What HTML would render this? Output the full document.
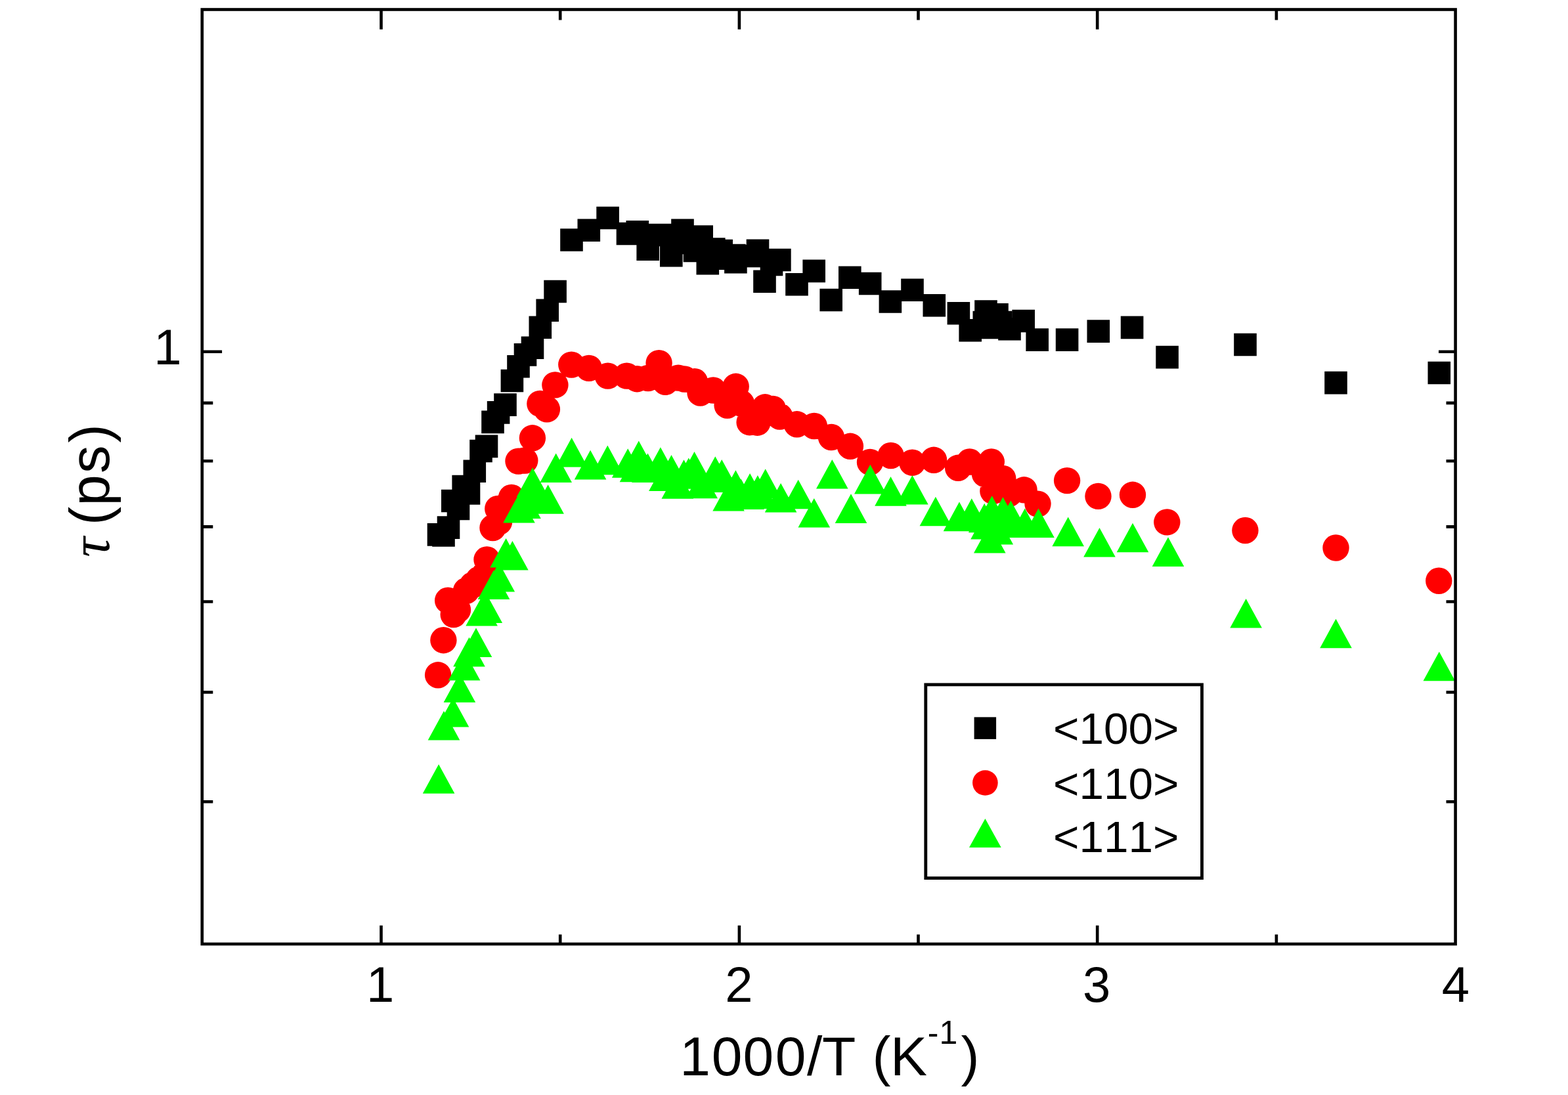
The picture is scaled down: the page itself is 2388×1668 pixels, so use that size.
<!DOCTYPE html>
<html><head><meta charset="utf-8"><title>tau vs 1000/T</title>
<style>html,body{margin:0;padding:0;background:#fff;overflow:hidden}svg{display:block;font-kerning:none;font-feature-settings:"kern" 0}</style>
</head><body><svg width="2388" height="1668" viewBox="0 0 2388 1668"><rect x="0" y="0" width="2388" height="1668" fill="#fff"/><path fill="#000" d="M2174.5 550.7h34.6v34.6h-34.6zM2017.2 565.8h34.6v34.6h-34.6zM1879.2 507.7h34.6v34.6h-34.6zM1760.3 526.8h34.6v34.6h-34.6zM1706.8 481.6h34.6v34.6h-34.6zM1655.5 487.3h34.6v34.6h-34.6zM1607.8 500.3h34.6v34.6h-34.6zM1562.4 500.3h34.6v34.6h-34.6zM1541.4 471.7h34.6v34.6h-34.6zM1520.2 483.9h34.6v34.6h-34.6zM1506.7 473.7h34.6v34.6h-34.6zM1501.2 461.9h34.6v34.6h-34.6zM1490.7 481.7h34.6v34.6h-34.6zM1484.2 457.3h34.6v34.6h-34.6zM1481.5 473.7h34.6v34.6h-34.6zM1460.4 486h34.6v34.6h-34.6zM1442.6 460h34.6v34.6h-34.6zM1405.5 447.9h34.6v34.6h-34.6zM1372.2 424.4h34.6v34.6h-34.6zM1338.6 442.2h34.6v34.6h-34.6zM1307.9 414.7h34.6v34.6h-34.6zM1277 405.4h34.6v34.6h-34.6zM1248.4 439.7h34.6v34.6h-34.6zM1222.4 395.6h34.6v34.6h-34.6zM1196.2 416h34.6v34.6h-34.6zM1170.1 378.7h34.6v34.6h-34.6zM1157.7 385.7h34.6v34.6h-34.6zM1147.2 411.4h34.6v34.6h-34.6zM1136.7 364.6h34.6v34.6h-34.6zM1125.7 372.7h34.6v34.6h-34.6zM1103.1 381.8h34.6v34.6h-34.6zM1101 371.7h34.6v34.6h-34.6zM1081.4 364.7h34.6v34.6h-34.6zM1070 362.3h34.6v34.6h-34.6zM1081.7 376.3h34.6v34.6h-34.6zM1060.5 384h34.6v34.6h-34.6zM1051.4 343.2h34.6v34.6h-34.6zM1040.7 364.7h34.6v34.6h-34.6zM1014.7 352.7h34.6v34.6h-34.6zM1022.2 333.4h34.6v34.6h-34.6zM1005 372h34.6v34.6h-34.6zM987.7 340.7h34.6v34.6h-34.6zM969.4 362.4h34.6v34.6h-34.6zM953.5 336h34.6v34.6h-34.6zM938.7 338.7h34.6v34.6h-34.6zM908.3 314.7h34.6v34.6h-34.6zM879.5 333.5h34.6v34.6h-34.6zM853.2 348.2h34.6v34.6h-34.6zM828.3 426.7h34.6v34.6h-34.6zM816.4 455.5h34.6v34.6h-34.6zM805.5 481.4h34.6v34.6h-34.6zM793.7 512.5h34.6v34.6h-34.6zM782.7 523.1h34.6v34.6h-34.6zM772.2 541h34.6v34.6h-34.6zM762.6 562.7h34.6v34.6h-34.6zM752.2 599.3h34.6v34.6h-34.6zM741.8 611.1h34.6v34.6h-34.6zM733.2 625.6h34.6v34.6h-34.6zM723.7 662.6h34.6v34.6h-34.6zM715.2 669.7h34.6v34.6h-34.6zM705.5 700.4h34.6v34.6h-34.6zM696.7 734.2h34.6v34.6h-34.6zM688.4 723.7h34.6v34.6h-34.6zM680.7 757.7h34.6v34.6h-34.6zM672 745.7h34.6v34.6h-34.6zM665.7 786.3h34.6v34.6h-34.6zM658.2 798.2h34.6v34.6h-34.6zM650.7 797.1h34.6v34.6h-34.6z"/><path fill="#f00" d="M2171.1 884.7a20.2 20.2 0 1 0 40.4 0a20.2 20.2 0 1 0 -40.4 0zM2014.3 834.5a20.2 20.2 0 1 0 40.4 0a20.2 20.2 0 1 0 -40.4 0zM1876.2 808a20.2 20.2 0 1 0 40.4 0a20.2 20.2 0 1 0 -40.4 0zM1757.1 795.4a20.2 20.2 0 1 0 40.4 0a20.2 20.2 0 1 0 -40.4 0zM1704.8 753.8a20.2 20.2 0 1 0 40.4 0a20.2 20.2 0 1 0 -40.4 0zM1652.3 755.9a20.2 20.2 0 1 0 40.4 0a20.2 20.2 0 1 0 -40.4 0zM1604.9 732.1a20.2 20.2 0 1 0 40.4 0a20.2 20.2 0 1 0 -40.4 0zM1560.3 767.6a20.2 20.2 0 1 0 40.4 0a20.2 20.2 0 1 0 -40.4 0zM1539.4 746.3a20.2 20.2 0 1 0 40.4 0a20.2 20.2 0 1 0 -40.4 0zM1516.8 752a20.2 20.2 0 1 0 40.4 0a20.2 20.2 0 1 0 -40.4 0zM1507.1 728.9a20.2 20.2 0 1 0 40.4 0a20.2 20.2 0 1 0 -40.4 0zM1492.2 748.1a20.2 20.2 0 1 0 40.4 0a20.2 20.2 0 1 0 -40.4 0zM1479.8 722a20.2 20.2 0 1 0 40.4 0a20.2 20.2 0 1 0 -40.4 0zM1489.6 703.5a20.2 20.2 0 1 0 40.4 0a20.2 20.2 0 1 0 -40.4 0zM1456.5 703.5a20.2 20.2 0 1 0 40.4 0a20.2 20.2 0 1 0 -40.4 0zM1439 712.8a20.2 20.2 0 1 0 40.4 0a20.2 20.2 0 1 0 -40.4 0zM1401.9 700.8a20.2 20.2 0 1 0 40.4 0a20.2 20.2 0 1 0 -40.4 0zM1369.2 704.7a20.2 20.2 0 1 0 40.4 0a20.2 20.2 0 1 0 -40.4 0zM1336.5 694a20.2 20.2 0 1 0 40.4 0a20.2 20.2 0 1 0 -40.4 0zM1304.8 704a20.2 20.2 0 1 0 40.4 0a20.2 20.2 0 1 0 -40.4 0zM1274.7 679.8a20.2 20.2 0 1 0 40.4 0a20.2 20.2 0 1 0 -40.4 0zM1245.8 666a20.2 20.2 0 1 0 40.4 0a20.2 20.2 0 1 0 -40.4 0zM1219.7 649a20.2 20.2 0 1 0 40.4 0a20.2 20.2 0 1 0 -40.4 0zM1193.5 646.3a20.2 20.2 0 1 0 40.4 0a20.2 20.2 0 1 0 -40.4 0zM1167.3 634.5a20.2 20.2 0 1 0 40.4 0a20.2 20.2 0 1 0 -40.4 0zM1156.8 622.9a20.2 20.2 0 1 0 40.4 0a20.2 20.2 0 1 0 -40.4 0zM1145 620.3a20.2 20.2 0 1 0 40.4 0a20.2 20.2 0 1 0 -40.4 0zM1133.2 643.7a20.2 20.2 0 1 0 40.4 0a20.2 20.2 0 1 0 -40.4 0zM1121.4 643.2a20.2 20.2 0 1 0 40.4 0a20.2 20.2 0 1 0 -40.4 0zM1108.8 614.5a20.2 20.2 0 1 0 40.4 0a20.2 20.2 0 1 0 -40.4 0zM1100.5 588.8a20.2 20.2 0 1 0 40.4 0a20.2 20.2 0 1 0 -40.4 0zM1087.4 617.5a20.2 20.2 0 1 0 40.4 0a20.2 20.2 0 1 0 -40.4 0zM1066 594.5a20.2 20.2 0 1 0 40.4 0a20.2 20.2 0 1 0 -40.4 0zM1046.3 598.5a20.2 20.2 0 1 0 40.4 0a20.2 20.2 0 1 0 -40.4 0zM1037.7 581.2a20.2 20.2 0 1 0 40.4 0a20.2 20.2 0 1 0 -40.4 0zM1022.2 577.5a20.2 20.2 0 1 0 40.4 0a20.2 20.2 0 1 0 -40.4 0zM1012.8 575.6a20.2 20.2 0 1 0 40.4 0a20.2 20.2 0 1 0 -40.4 0zM966.8 576a20.2 20.2 0 1 0 40.4 0a20.2 20.2 0 1 0 -40.4 0zM993.2 581.8a20.2 20.2 0 1 0 40.4 0a20.2 20.2 0 1 0 -40.4 0zM983.4 553.1a20.2 20.2 0 1 0 40.4 0a20.2 20.2 0 1 0 -40.4 0zM950 577.2a20.2 20.2 0 1 0 40.4 0a20.2 20.2 0 1 0 -40.4 0zM934.3 572.6a20.2 20.2 0 1 0 40.4 0a20.2 20.2 0 1 0 -40.4 0zM905.5 572.6a20.2 20.2 0 1 0 40.4 0a20.2 20.2 0 1 0 -40.4 0zM876.7 560.9a20.2 20.2 0 1 0 40.4 0a20.2 20.2 0 1 0 -40.4 0zM850.1 555.6a20.2 20.2 0 1 0 40.4 0a20.2 20.2 0 1 0 -40.4 0zM825.2 586.4a20.2 20.2 0 1 0 40.4 0a20.2 20.2 0 1 0 -40.4 0zM812.7 623.4a20.2 20.2 0 1 0 40.4 0a20.2 20.2 0 1 0 -40.4 0zM802.2 614.9a20.2 20.2 0 1 0 40.4 0a20.2 20.2 0 1 0 -40.4 0zM790.7 667.3a20.2 20.2 0 1 0 40.4 0a20.2 20.2 0 1 0 -40.4 0zM779.1 701.5a20.2 20.2 0 1 0 40.4 0a20.2 20.2 0 1 0 -40.4 0zM769.3 702.6a20.2 20.2 0 1 0 40.4 0a20.2 20.2 0 1 0 -40.4 0zM758.8 758a20.2 20.2 0 1 0 40.4 0a20.2 20.2 0 1 0 -40.4 0zM746.8 777a20.2 20.2 0 1 0 40.4 0a20.2 20.2 0 1 0 -40.4 0zM738.1 775a20.2 20.2 0 1 0 40.4 0a20.2 20.2 0 1 0 -40.4 0zM739.8 795a20.2 20.2 0 1 0 40.4 0a20.2 20.2 0 1 0 -40.4 0zM730.3 804a20.2 20.2 0 1 0 40.4 0a20.2 20.2 0 1 0 -40.4 0zM721.3 852.5a20.2 20.2 0 1 0 40.4 0a20.2 20.2 0 1 0 -40.4 0zM718.8 874a20.2 20.2 0 1 0 40.4 0a20.2 20.2 0 1 0 -40.4 0zM708.8 883a20.2 20.2 0 1 0 40.4 0a20.2 20.2 0 1 0 -40.4 0zM699.3 891.5a20.2 20.2 0 1 0 40.4 0a20.2 20.2 0 1 0 -40.4 0zM689.8 900a20.2 20.2 0 1 0 40.4 0a20.2 20.2 0 1 0 -40.4 0zM670.5 936.1a20.2 20.2 0 1 0 40.4 0a20.2 20.2 0 1 0 -40.4 0zM676.8 929a20.2 20.2 0 1 0 40.4 0a20.2 20.2 0 1 0 -40.4 0zM662 914.7a20.2 20.2 0 1 0 40.4 0a20.2 20.2 0 1 0 -40.4 0zM655.2 975.2a20.2 20.2 0 1 0 40.4 0a20.2 20.2 0 1 0 -40.4 0zM646.9 1028.3a20.2 20.2 0 1 0 40.4 0a20.2 20.2 0 1 0 -40.4 0z"/><path fill="#0f0" d="M2191.8 992.7L2216.1 1037.3H2167.5zM2034.5 942.7L2058.8 987.3H2010.2zM1897.6 911.9L1921.9 956.5H1873.3zM1779 818.3L1803.3 862.9H1754.7zM1725 796.7L1749.3 841.3H1700.7zM1674.5 803.9L1698.8 848.5H1650.2zM1626.7 787.6L1651 832.2H1602.4zM1581.5 774.5L1605.8 819.1H1557.2zM1560.8 774.5L1585.1 819.1H1536.5zM1539.4 762.5L1563.7 807.1H1515.1zM1527.4 757.2L1551.7 801.8H1503.1zM1510.7 755.2L1535 799.8H1486.4zM1499.2 766.7L1523.5 811.3H1474.9zM1479.8 759.3L1504.1 803.9H1455.5zM1461 764.6L1485.3 809.2H1436.7zM1424.9 756.7L1449.2 801.3H1400.6zM1507.3 797.9L1531.6 842.5H1483zM1535 774L1559.3 818.6H1510.7zM1518.8 784.8L1543.1 829.4H1494.5zM1502.5 777L1526.8 821.6H1478.2zM1389.4 724L1413.7 768.6H1365.1zM1356.5 726.1L1380.8 770.7H1332.2zM1325.3 707.8L1349.6 752.4H1301zM1296 752.3L1320.3 796.9H1271.7zM1267.3 699.9L1291.6 744.5H1243zM1239.8 758.9L1264.1 803.5H1215.5zM1215.7 730.7L1240 775.3H1191.4zM1189.1 735.9L1213.4 780.5H1164.8zM1165.7 714.3L1190 758.9H1141.4zM1128.6 729.4L1152.9 774H1104.3zM1139.7 731.4L1164 776H1115.4zM1160 730.5L1184.3 775.1H1135.7zM1095 705.5L1119.3 750.1H1070.7zM1068.7 714.6L1093 759.2H1044.4zM1153.9 723.9L1178.2 768.5H1129.6zM1142.1 720.9L1166.4 765.5H1117.8zM1120.4 716.3L1144.7 760.9H1096.1zM1109.6 734L1133.9 778.6H1085.3zM1099.2 699.9L1123.5 744.5H1074.9zM1089.3 695.2L1113.6 739.8H1065zM1057.5 688L1081.8 732.6H1033.2zM1048.8 697.4L1073.1 742H1024.5zM1041.5 700.2L1065.8 744.8H1017.2zM1031.8 715.2L1056.1 759.8H1007.5zM1022.5 693L1046.8 737.6H998.2zM1012.4 703.4L1036.7 748H988.1zM1005.9 681.2L1030.2 725.8H981.6zM986.5 690.4L1010.8 735H962.2zM968 689.6L992.3 734.2H943.7zM972.8 671.4L997.1 716H948.5zM956.2 683.2L980.5 727.8H931.9zM925.3 678.6L949.6 723.2H901zM899.1 685.8L923.4 730.4H874.8zM870.6 666.8L894.9 711.4H846.3zM846.7 690.4L871 735H822.4zM834.6 738.2L858.9 782.8H810.3zM811.1 712.3L835.4 756.9H786.8zM799.5 745.4L823.8 790H775.2zM815 737L839.3 781.6H790.7zM790.5 752L814.8 796.6H766.2zM780.4 824L804.7 868.6H756.1zM770.6 820L794.9 864.6H746.3zM759.8 857L784.1 901.6H735.5zM752 868.5L776.3 913.1H727.7zM740.8 904.4L765.1 949H716.5zM733.6 909L757.9 953.6H709.3zM725 956.5L749.3 1001.1H700.7zM714.5 970.8L738.8 1015.4H690.2zM707.1 992L731.4 1036.6H682.8zM699.9 1025.5L724.2 1070.1H675.6zM690 1063L714.3 1107.6H665.7zM676 1083L700.3 1127.6H651.7zM668.1 1164.2L692.4 1208.8H643.8z"/><rect x="307.8" y="14.5" width="1908.8" height="1423.5" fill="none" stroke="#000" stroke-width="4.6"/><path fill="none" stroke="#000" stroke-width="4.6" d="M580.5 1438v-28.3M580.5 14.5v30.2M853.2 1438v-14.6M853.2 14.5v16.1M1125.9 1438v-28.3M1125.9 14.5v30.2M1398.5 1438v-14.6M1398.5 14.5v16.1M1671.2 1438v-28.3M1671.2 14.5v30.2M1943.9 1438v-14.6M1943.9 14.5v16.1M307.8 535.8h30.3M2216.6 535.8h-25.6M307.8 613.9h16.5M2216.6 613.9h-14.1M307.8 702.2h16.5M2216.6 702.2h-14.1M307.8 802.4h16.5M2216.6 802.4h-14.1M307.8 916.5h16.5M2216.6 916.5h-14.1M307.8 1054.5h16.5M2216.6 1054.5h-14.1M307.8 1221.3h16.5M2216.6 1221.3h-14.1"/><g font-family="'Liberation Sans', Arial, sans-serif" font-size="76" fill="#000" text-anchor="middle"><text x="579.2" y="1526">1</text><text x="1125.5" y="1526">2</text><text x="1670.2" y="1526">3</text><text x="2217" y="1526">4</text><text x="276.5" y="555" text-anchor="end">1</text></g><text font-family="'Liberation Sans', Arial, sans-serif" font-size="84" fill="#000" y="1638" x="1035.2 1083.7 1131.6 1180.7 1229 1252.1 1303.4 1328.4 1356.1">1000/T (K<tspan font-size="50" y="1590" x="1412.8 1430.6">-1</tspan><tspan y="1638" x="1463.5">)</tspan></text><text font-family="'Liberation Sans', Arial, sans-serif" font-size="85" fill="#000" transform="translate(165.5 849) rotate(-90)"><tspan font-family="'Liberation Serif', serif" font-style="italic" x="0.2">&#964;</tspan><tspan x="27 49.1 78.6 128 174.4"> (ps)</tspan></text><rect x="1409.8" y="1042.9" width="420.7" height="294.7" fill="#fff" stroke="#000" stroke-width="4.8"/><rect x="1483.6" y="1092.4" width="33.5" height="33.5" fill="#000"/><circle cx="1500.4" cy="1192.5" r="19.3" fill="#f00"/><path fill="#0f0" d="M1500.4 1246.9L1524.7 1291.1H1476z"/><g font-family="'Liberation Sans', Arial, sans-serif" font-size="67.5" fill="#000"><text x="1604" y="1133">&lt;100&gt;</text><text x="1604" y="1216.5">&lt;110&gt;</text><text x="1604" y="1297.7">&lt;111&gt;</text></g></svg></body></html>
